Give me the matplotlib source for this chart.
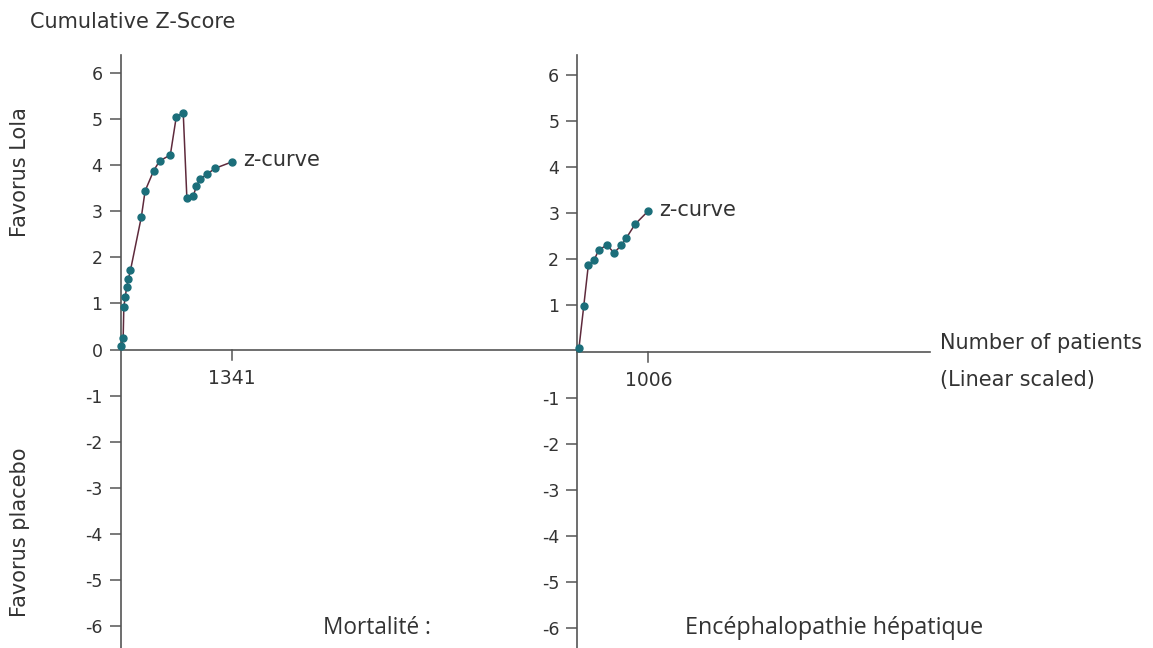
import matplotlib
matplotlib.use('Agg')
import matplotlib.pyplot as plt

# Mortalité : cumulative z-curve
mort_patients = [12, 32, 40, 56, 75, 96, 120, 251, 296, 399, 470, 599, 670,
                 754, 798, 877, 913, 961, 1038, 1137, 1341]
mort_z = [0.07, 0.25, 0.92, 1.13, 1.36, 1.54, 1.72, 2.88, 3.44, 3.88, 4.09,
          4.22, 5.04, 5.14, 3.28, 3.34, 3.55, 3.70, 3.80, 3.93, 4.07]

# Encéphalopathie hépatique : cumulative z-curve
ence_patients = [24, 91, 156, 237, 303, 421, 520, 623, 694, 818, 1006]
ence_z = [0.08, 0.98, 1.87, 1.98, 2.20, 2.31, 2.14, 2.30, 2.46, 2.76, 3.05]

y_ticks = [-6, -5, -4, -3, -2, -1, 0, 1, 2, 3, 4, 5, 6]

plt.rcParams['font.family'] = ['DejaVu Sans']
TXT = '#333333'
AX = '#555555'
LINE = '#5e2a3c'
DOT = '#1b6e7a'
FS = 15

W, H = 1153, 648
fig = plt.figure(figsize=(W / 100, H / 100), dpi=100)


def make_axes(x0, x1, xmax, ylo, yhi):
    ax = fig.add_axes([x0 / W, 0, (x1 - x0) / W, (H - 55) / H])
    ax.set_xlim(0, xmax)
    ax.set_ylim(ylo, yhi)
    ax.patch.set_alpha(0)
    for s in ['top', 'right']:
        ax.spines[s].set_visible(False)
    ax.spines['bottom'].set_position(('data', 0))
    ax.spines['left'].set_color(AX)
    ax.spines['bottom'].set_color(AX)
    ax.spines['left'].set_linewidth(1.2)
    ax.spines['bottom'].set_linewidth(1.2)
    ax.tick_params(axis='y', length=8, width=1.1, color=AX, labelcolor=TXT,
                   labelsize=12.5, pad=5)
    ax.set_xticks([])
    return ax


# left panel: 0 at x=120.5px, 1341 at 232px ; y 0 at 349.5px, 46.1 px/unit
axl = make_axes(120.5, 577.3, 456.8 / 0.08318,
                -(648 - 349.5) / 46.1, (349.5 - 55) / 46.1)
# right panel: 0 at 577.3px, 1006 at 648.3px
axr = make_axes(577.3, 930, 352.7 / 0.07058,
                -(648 - 351.5) / 46.1, (351.5 - 55) / 46.1)

axl.set_yticks(y_ticks)
axl.set_yticklabels([str(v) for v in y_ticks])
right_ticks = [v for v in y_ticks if v != 0]
axr.set_yticks(right_ticks)
axr.set_yticklabels([str(v) for v in right_ticks])

for ax, px, pz in [(axl, mort_patients, mort_z), (axr, ence_patients, ence_z)]:
    ax.plot(px, pz, color=LINE, lw=1.1, marker='o', ms=5,
            mfc=DOT, mec=DOT, zorder=3, clip_on=False)
    n = px[-1]
    # downward tick at the total number of patients
    ax.plot([n, n], [0, -0.22], color=AX, lw=1.1)
    ax.annotate(str(n), (n, 0), xytext=(0, -21), textcoords='offset points',
                ha='center', va='center', fontsize=13.5, color=TXT)
    ax.annotate('z-curve', (n, pz[-1]), xytext=(8, 1),
                textcoords='offset points', ha='left', va='center',
                fontsize=FS, color=TXT)

fig.text(30 / W, 1 - 22 / H, 'Cumulative Z-Score', ha='left', va='center',
         fontsize=FS, color=TXT)
fig.text(20 / W, 1 - 172 / H, 'Favorus Lola', rotation=90, ha='center',
         va='center', fontsize=FS, color=TXT)
fig.text(20 / W, 1 - 532 / H, 'Favorus placebo', rotation=90, ha='center',
         va='center', fontsize=FS, color=TXT)
fig.text(940 / W, 1 - 343 / H, 'Number of patients', ha='left', va='center',
         fontsize=FS, color=TXT)
fig.text(940 / W, 1 - 380 / H, '(Linear scaled)', ha='left', va='center',
         fontsize=FS, color=TXT)
fig.text(323 / W, 1 - 628 / H, 'Mortalité :', ha='left', va='center',
         fontsize=16.3, color=TXT, family='Open Sans')
fig.text(685 / W, 1 - 628 / H, 'Encéphalopathie hépatique', ha='left',
         va='center', fontsize=16.8, color=TXT, family='Open Sans')

fig.savefig('out.png', dpi=100)
